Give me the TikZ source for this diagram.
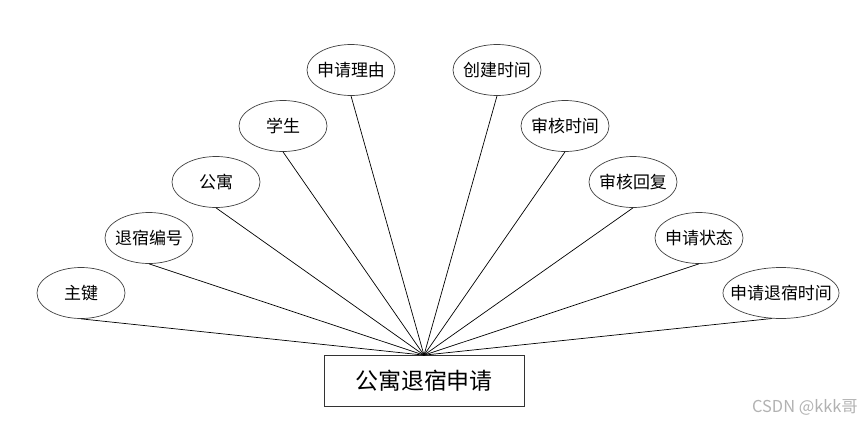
\documentclass[tikz,border=0pt]{standalone}
\usepackage{fontspec}
\newfontfamily\cjk{Noto Sans CJK SC}
\usetikzlibrary{shapes.geometric}
\begin{document}
\begin{tikzpicture}[attr/.style={ellipse,draw=black!75,line width=0.6pt,minimum width=2.64cm,minimum height=1.53cm,inner xsep=-0.2cm,inner ysep=0pt,font=\cjk\fontsize{14.5}{16}\selectfont}]
    \useasboundingbox (0,0) rectangle (25.83,12.63);
    \node[draw=black!80,line width=0.6pt,minimum width=6cm,minimum height=1.53cm,font=\cjk\fontsize{19.6}{22}\selectfont] (r) at (12.72,1.2) {公寓退宿申请};

    \node[attr] (a1) at (2.43,3.84) {主键};
    \node[attr] (a2) at (4.47,5.49) {退宿编号};
    \node[attr] (a3) at (6.48,7.17) {公寓};
    \node[attr] (a4) at (8.49,8.85) {学生};
    \node[attr] (a5) at (10.53,10.53) {申请理由};
    \node[attr] (a6) at (14.91,10.53) {创建时间};
    \node[attr] (a7) at (16.95,8.85) {审核时间};
    \node[attr] (a8) at (18.99,7.17) {审核回复};
    \node[attr] (a9) at (20.97,5.49) {申请状态};
    \node[attr,minimum width=3.48cm,inner xsep=-0.35cm] (a10) at (23.43,3.84) {申请退宿时间};

    \draw[line width=0.6pt] (a1.south) -- (r.north);
    \draw[line width=0.6pt] (a2.south) -- (r.north);
    \draw[line width=0.6pt] (a3.south) -- (r.north);
    \draw[line width=0.6pt] (a4.south) -- (r.north);
    \draw[line width=0.6pt] (a5.south) -- (r.north);
    \draw[line width=0.6pt] (a6.south) -- (r.north);
    \draw[line width=0.6pt] (a7.south) -- (r.north);
    \draw[line width=0.6pt] (a8.south) -- (r.north);
    \draw[line width=0.6pt] (a9.south) -- (r.north);
    \draw[line width=0.6pt] (a10.250) -- (r.north);

    \node[text=black!30,font=\cjk\fontsize{14}{16}\selectfont] (wm) at (24.15,0.42) {CSDN @kkk哥};
\end{tikzpicture}
\end{document}
